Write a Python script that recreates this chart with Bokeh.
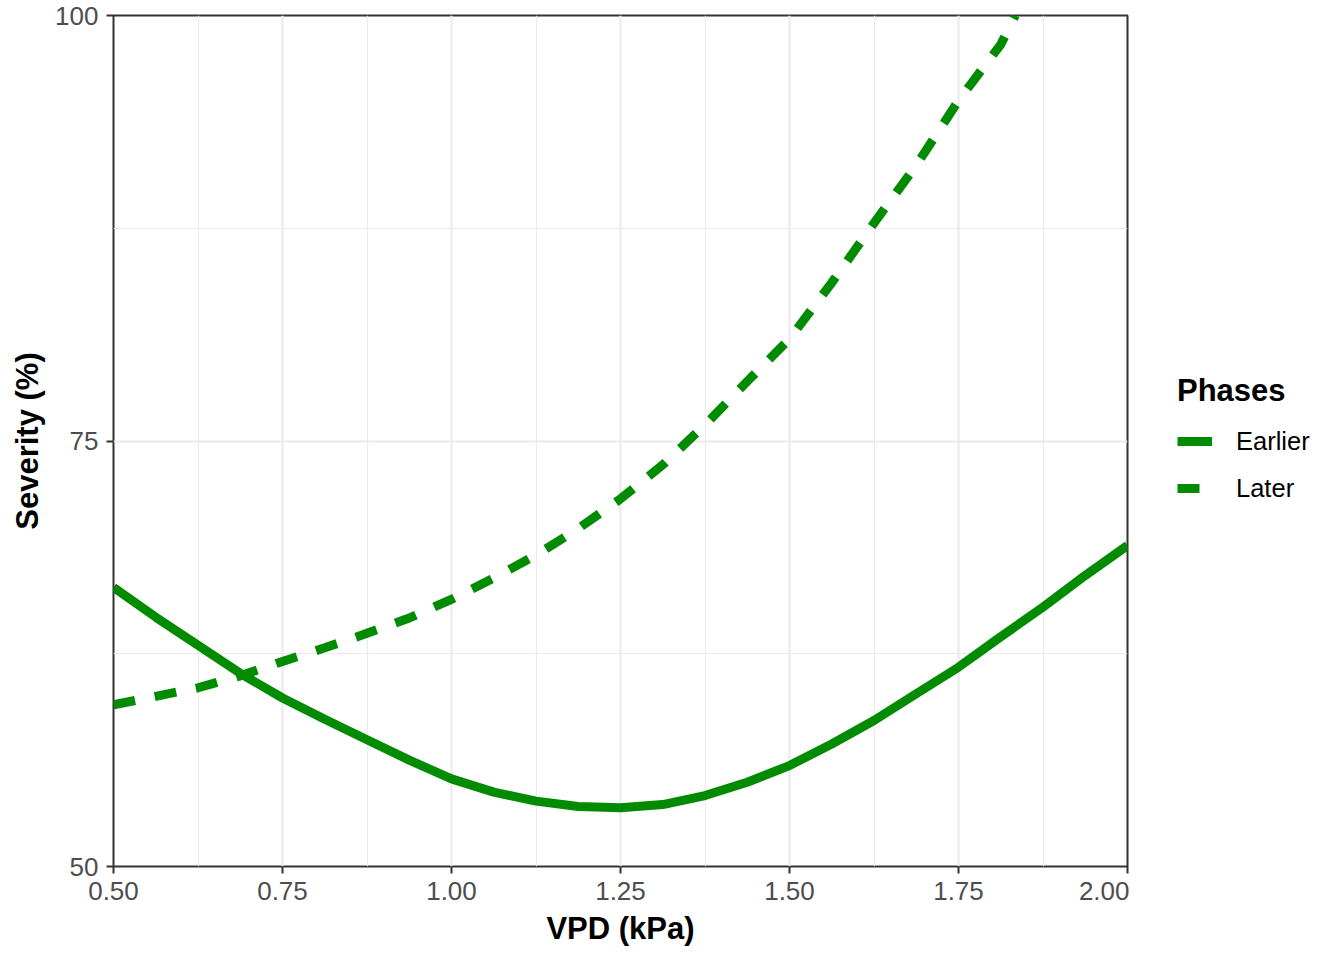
from bokeh.plotting import figure
from bokeh.layouts import row
from bokeh.models import Range1d, FixedTicker, PrintfTickFormatter, Legend, LegendItem
from bokeh.embed import file_html
from bokeh.resources import INLINE

# ---- data ----
vpd = [0.5, 0.5625, 0.625, 0.6875, 0.75, 0.8125, 0.875, 0.9375, 1.0, 1.0625, 1.125,
       1.1875, 1.25, 1.3125, 1.375, 1.4375, 1.5, 1.5625, 1.625, 1.6875, 1.75,
       1.8125, 1.875, 1.9375, 2.0]
earlier = [66.4, 64.65, 63.0, 61.35, 59.9, 58.65, 57.45, 56.25, 55.15, 54.37, 53.84,
           53.53, 53.45, 53.64, 54.17, 54.95, 55.93, 57.2, 58.58, 60.15, 61.71,
           63.5, 65.24, 67.1, 68.86]

vpd_later = [0.5, 0.5625, 0.625, 0.6875, 0.75, 0.8125, 0.875, 0.9375, 1.0, 1.0625,
             1.125, 1.1875, 1.25, 1.3125, 1.375, 1.4375, 1.5, 1.5625, 1.625,
             1.6875, 1.75, 1.8125, 1.834]
later = [59.5, 60.0, 60.5, 61.2, 62.05, 62.85, 63.7, 64.6, 65.7, 66.95,
         68.3, 69.85, 71.6, 73.6, 75.95, 78.5, 81.0, 84.3, 87.8,
         91.2, 95.0, 98.3, 100.0]

phases = ["Earlier", "Later"]
x_ticks = [0.5, 0.75, 1.0, 1.25, 1.5, 1.75, 2.0]
x_minor = [0.625, 0.875, 1.125, 1.375, 1.625, 1.875]
y_ticks = [50, 75, 100]
y_minor = [62.5, 87.5]

FONT = "Liberation Sans"
GREEN = "#008B00"
LW = 9
DASH = "22 20"

p = figure(width=1129, height=960, output_backend="svg", toolbar_location=None,
           x_range=Range1d(0.5, 2.0), y_range=Range1d(50, 100),
           min_border_left=113, min_border_right=2,
           min_border_top=15, min_border_bottom=94)
p.background_fill_color = "white"
p.border_fill_color = "white"
p.outline_line_color = "#333333"
p.outline_line_width = 2

for ax, ticks, minor in ((p.xaxis[0], x_ticks, x_minor), (p.yaxis[0], y_ticks, y_minor)):
    ax.ticker = FixedTicker(ticks=ticks, minor_ticks=minor)
    ax.axis_line_color = None
    ax.major_tick_in = 0
    ax.major_tick_out = 7
    ax.major_tick_line_color = "#333333"
    ax.major_tick_line_width = 2
    ax.minor_tick_line_color = None
    ax.major_label_text_font = FONT
    ax.major_label_text_font_size = "26px"
    ax.major_label_text_color = "#4D4D4D"
    ax.major_label_standoff = 8
    ax.axis_label_text_font = FONT
    ax.axis_label_text_font_size = "31px"
    ax.axis_label_text_font_style = "bold"
    ax.axis_label_text_color = "black"

p.xaxis[0].formatter = PrintfTickFormatter(format="%.2f")
p.yaxis[0].formatter = PrintfTickFormatter(format="%d")
p.xaxis[0].axis_label = "VPD (kPa)"
p.yaxis[0].axis_label = "Severity (%)"
p.xaxis[0].axis_label_standoff = 8
p.yaxis[0].axis_label_standoff = 7

for g in (p.xgrid[0], p.ygrid[0]):
    g.grid_line_color = "#EBEBEB"
    g.grid_line_width = 2.2
    g.minor_grid_line_color = "#EBEBEB"
    g.minor_grid_line_width = 1.1

p.line(vpd, earlier, line_color=GREEN, line_width=LW)
p.line(vpd_later, later, line_color=GREEN, line_width=LW, line_dash=DASH)

# ---- legend panel (separate figure to the right; its ranges keep the
#      same series out of view, so only the legend keys are drawn) ----
lf = figure(width=215, height=960, output_backend="svg", toolbar_location=None,
            x_range=Range1d(0, 1), y_range=Range1d(0, 1),
            min_border_left=0, min_border_right=0, min_border_top=0, min_border_bottom=0)
lf.axis.visible = False
lf.grid.visible = False
lf.outline_line_color = None
lf.background_fill_color = "white"
lf.border_fill_color = "white"
k1 = lf.line(vpd, earlier, line_color=GREEN, line_width=LW)
k2 = lf.line(vpd_later, later, line_color=GREEN, line_width=LW, line_dash=DASH)

legend = Legend(items=[LegendItem(label=phases[0], renderers=[k1]),
                       LegendItem(label=phases[1], renderers=[k2])],
                title="Phases", location=(48, 358),
                title_text_font=FONT, title_text_font_size="31px",
                title_text_font_style="bold", title_text_color="black",
                label_text_font=FONT, label_text_font_size="25.5px",
                label_text_color="black",
                glyph_width=35, glyph_height=40, label_height=40,
                spacing=7, label_standoff=24, padding=0, margin=0,
                title_standoff=12,
                border_line_color=None, background_fill_alpha=0)
lf.add_layout(legend)

layout = row(p, lf)
open("out.html", "w").write(file_html(layout, INLINE))
